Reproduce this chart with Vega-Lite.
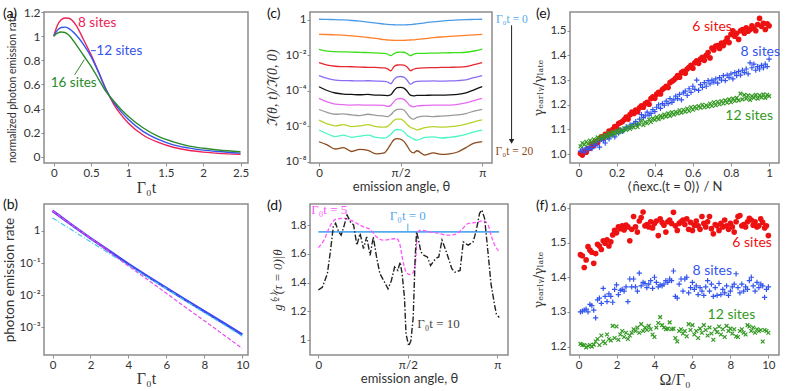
{
"$schema": "https://vega.github.io/schema/vega-lite/v6.json",
"background": "white",
"padding": {"left": 2, "top": 5, "right": 2, "bottom": 0},
"config": {
 "font": "Lato",
 "view": {"stroke": "#8c8c8c", "strokeWidth": 1.5},
 "axis": {"domain": false, "grid": false, "tickCount": 30, "tickColor": "#8c8c8c", "tickSize": 3, "labelPadding": 1, "labelFont": "Lato", "labelFontSize": 11.5, "labelColor": "#333", "labelOverlap": false, "titleFont": "Lato", "titleFontWeight": "normal", "titleFontSize": 13, "titleColor": "#333"},
 "title": {"font": "Lato", "fontSize": 14, "fontWeight": "normal", "anchor": "start", "frame": "group", "color": "#111"}
},
"datasets": {
 "a": [
  {"t":0,"r":1,"b":1,"g":1},{"t":0.05,"r":1.09,"b":1.05,"g":1.025},{"t":0.1,"r":1.135,"b":1.072,"g":1.035},{"t":0.15,"r":1.15,"b":1.075,"g":1.03},{"t":0.2,"r":1.148,"b":1.065,"g":1.01},{"t":0.3,"r":1.09,"b":1.01,"g":0.93},{"t":0.4,"r":0.97,"b":0.93,"g":0.84},{"t":0.5,"r":0.845,"b":0.83,"g":0.75},{"t":0.6,"r":0.705,"b":0.7,"g":0.645},{"t":0.7,"r":0.56,"b":0.555,"g":0.54},{"t":0.8,"r":0.44,"b":0.455,"g":0.465},{"t":0.9,"r":0.35,"b":0.375,"g":0.395},{"t":1.0,"r":0.28,"b":0.31,"g":0.335},{"t":1.2,"r":0.18,"b":0.21,"g":0.24},{"t":1.4,"r":0.12,"b":0.145,"g":0.17},{"t":1.6,"r":0.08,"b":0.1,"g":0.125},{"t":1.8,"r":0.055,"b":0.075,"g":0.092},{"t":2.0,"r":0.04,"b":0.057,"g":0.072},{"t":2.2,"r":0.03,"b":0.045,"g":0.058},{"t":2.5,"r":0.022,"b":0.032,"g":0.043}
 ],
 "b": [
  {"t":0,"s":4.17,"c":2.512,"m":4.17},{"t":1,"s":1.54,"c":1.072,"m":1.56},{"t":2,"s":0.589,"c":0.457,"m":0.589},{"t":3,"s":0.2344,"c":0.195,"m":0.2188},{"t":4,"s":0.0933,"c":0.0851,"m":0.0813},{"t":5,"s":0.0389,"c":0.0363,"m":0.0309},{"t":6,"s":0.0166,"c":0.01585,"m":0.01148},{"t":7,"s":0.00724,"c":0.00676,"m":0.00427},{"t":8,"s":0.00316,"c":0.00288,"m":0.00162},{"t":9,"s":0.00138,"c":0.00126,"m":0.000603},{"t":10,"s":0.000603,"c":0.000537,"m":0.000224}
 ],
 "c": [
  {"u":0,"c1":0.04,"c2":-0.81,"c3":-1.66,"c4":-2.41,"c5":-3.14,"c6":-3.77,"c7":-4.42,"c8":-5.05,"c9":-5.65,"c10":-6.21,"c11":-6.87},
  {"u":0.05,"c1":0.03,"c2":-0.82,"c3":-1.76,"c4":-2.55,"c5":-3.3,"c6":-3.98,"c7":-4.62,"c8":-5.22,"c9":-5.86,"c10":-6.42,"c11":-7.05},
  {"u":0.1,"c1":0.02,"c2":-0.84,"c3":-1.79,"c4":-2.61,"c5":-3.39,"c6":-4.12,"c7":-4.75,"c8":-5.32,"c9":-5.98,"c10":-6.58,"c11":-7.28},
  {"u":0.15,"c1":0.0,"c2":-0.86,"c3":-1.8,"c4":-2.63,"c5":-3.42,"c6":-4.18,"c7":-4.78,"c8":-5.3,"c9":-5.9,"c10":-6.5,"c11":-7.2},
  {"u":0.2,"c1":-0.03,"c2":-0.9,"c3":-1.81,"c4":-2.64,"c5":-3.43,"c6":-4.2,"c7":-4.8,"c8":-5.36,"c9":-6.02,"c10":-6.62,"c11":-7.42},
  {"u":0.25,"c1":-0.07,"c2":-0.94,"c3":-1.83,"c4":-2.66,"c5":-3.44,"c6":-4.22,"c7":-4.79,"c8":-5.4,"c9":-5.98,"c10":-6.55,"c11":-7.3},
  {"u":0.3,"c1":-0.12,"c2":-0.99,"c3":-1.84,"c4":-2.67,"c5":-3.43,"c6":-4.2,"c7":-4.81,"c8":-5.32,"c9":-5.9,"c10":-6.5,"c11":-7.36},
  {"u":0.35,"c1":-0.18,"c2":-1.04,"c3":-1.86,"c4":-2.68,"c5":-3.45,"c6":-4.24,"c7":-4.8,"c8":-5.38,"c9":-6.02,"c10":-6.62,"c11":-7.55},
  {"u":0.4,"c1":-0.23,"c2":-1.11,"c3":-1.88,"c4":-2.7,"c5":-3.46,"c6":-4.25,"c7":-4.82,"c8":-5.42,"c9":-6.05,"c10":-6.66,"c11":-7.5},
  {"u":0.42,"c1":-0.25,"c2":-1.13,"c3":-1.92,"c4":-2.76,"c5":-3.5,"c6":-4.27,"c7":-4.88,"c8":-5.45,"c9":-6.0,"c10":-6.6,"c11":-7.3},
  {"u":0.44,"c1":-0.26,"c2":-1.14,"c3":-2.01,"c4":-2.87,"c5":-3.6,"c6":-4.22,"c7":-4.82,"c8":-5.35,"c9":-5.85,"c10":-6.45,"c11":-7.0},
  {"u":0.46,"c1":-0.27,"c2":-1.15,"c3":-1.9,"c4":-2.62,"c5":-3.35,"c6":-3.98,"c7":-4.6,"c8":-5.15,"c9":-5.66,"c10":-6.25,"c11":-6.75},
  {"u":0.48,"c1":-0.28,"c2":-1.15,"c3":-1.82,"c4":-2.54,"c5":-3.21,"c6":-3.82,"c7":-4.45,"c8":-5.04,"c9":-5.59,"c10":-6.18,"c11":-6.69},
  {"u":0.5,"c1":-0.28,"c2":-1.15,"c3":-1.81,"c4":-2.53,"c5":-3.19,"c6":-3.8,"c7":-4.43,"c8":-5.03,"c9":-5.6,"c10":-6.2,"c11":-6.72},
  {"u":0.52,"c1":-0.28,"c2":-1.15,"c3":-1.82,"c4":-2.55,"c5":-3.22,"c6":-3.84,"c7":-4.48,"c8":-5.08,"c9":-5.7,"c10":-6.3,"c11":-6.85},
  {"u":0.54,"c1":-0.27,"c2":-1.14,"c3":-1.9,"c4":-2.65,"c5":-3.4,"c6":-4.02,"c7":-4.65,"c8":-5.3,"c9":-5.9,"c10":-6.5,"c11":-7.1},
  {"u":0.56,"c1":-0.26,"c2":-1.13,"c3":-2.01,"c4":-2.86,"c5":-3.62,"c6":-4.24,"c7":-4.85,"c8":-5.52,"c9":-6.05,"c10":-6.62,"c11":-7.4},
  {"u":0.58,"c1":-0.24,"c2":-1.12,"c3":-1.93,"c4":-2.78,"c5":-3.52,"c6":-4.28,"c7":-4.9,"c8":-5.6,"c9":-6.12,"c10":-6.72,"c11":-7.5},
  {"u":0.6,"c1":-0.22,"c2":-1.1,"c3":-1.89,"c4":-2.73,"c5":-3.46,"c6":-4.26,"c7":-4.85,"c8":-5.5,"c9":-6.2,"c10":-6.78,"c11":-7.38},
  {"u":0.65,"c1":-0.16,"c2":-1.05,"c3":-1.88,"c4":-2.7,"c5":-3.45,"c6":-4.25,"c7":-4.82,"c8":-5.42,"c9":-6.08,"c10":-6.62,"c11":-7.62},
  {"u":0.7,"c1":-0.11,"c2":-1.0,"c3":-1.87,"c4":-2.69,"c5":-3.44,"c6":-4.24,"c7":-4.8,"c8":-5.45,"c9":-6.02,"c10":-6.6,"c11":-7.5},
  {"u":0.75,"c1":-0.06,"c2":-0.96,"c3":-1.86,"c4":-2.68,"c5":-3.45,"c6":-4.24,"c7":-4.81,"c8":-5.42,"c9":-6.05,"c10":-6.66,"c11":-7.58},
  {"u":0.8,"c1":-0.02,"c2":-0.93,"c3":-1.85,"c4":-2.67,"c5":-3.44,"c6":-4.23,"c7":-4.8,"c8":-5.4,"c9":-6.02,"c10":-6.62,"c11":-7.55},
  {"u":0.85,"c1":0.0,"c2":-0.9,"c3":-1.84,"c4":-2.66,"c5":-3.42,"c6":-4.2,"c7":-4.76,"c8":-5.36,"c9":-5.97,"c10":-6.56,"c11":-7.45},
  {"u":0.9,"c1":0.02,"c2":-0.87,"c3":-1.82,"c4":-2.63,"c5":-3.38,"c6":-4.12,"c7":-4.68,"c8":-5.28,"c9":-5.88,"c10":-6.45,"c11":-7.2},
  {"u":0.95,"c1":0.03,"c2":-0.84,"c3":-1.75,"c4":-2.52,"c5":-3.25,"c6":-3.94,"c7":-4.55,"c8":-5.14,"c9":-5.75,"c10":-6.32,"c11":-6.95},
  {"u":1,"c1":0.04,"c2":-0.81,"c3":-1.64,"c4":-2.4,"c5":-3.13,"c6":-3.76,"c7":-4.42,"c8":-5.04,"c9":-5.64,"c10":-6.21,"c11":-6.86}
 ],
 "dm": [
  {"u":0,"g":1.643},{"u":0.031,"g":1.695},{"u":0.068,"g":1.8},{"u":0.096,"g":1.84},{"u":0.142,"g":1.847},{"u":0.179,"g":1.835},{"u":0.215,"g":1.812},{"u":0.252,"g":1.788},{"u":0.289,"g":1.77},{"u":0.325,"g":1.718},{"u":0.362,"g":1.695},{"u":0.399,"g":1.7},{"u":0.436,"g":1.707},{"u":0.454,"g":1.672},{"u":0.472,"g":1.554},{"u":0.491,"g":1.472},{"u":0.509,"g":1.456},{"u":0.527,"g":1.465},{"u":0.542,"g":1.531},{"u":0.555,"g":1.753},{"u":0.573,"g":1.765},{"u":0.619,"g":1.753},{"u":0.674,"g":1.742},{"u":0.72,"g":1.73},{"u":0.766,"g":1.735},{"u":0.802,"g":1.77},{"u":0.839,"g":1.812},{"u":0.885,"g":1.819},{"u":0.922,"g":1.83},{"u":0.949,"g":1.8},{"u":0.968,"g":1.718},{"u":0.986,"g":1.66},{"u":1.013,"g":1.613}
 ],
 "dk": [
  {"u":0,"g":1.349},{"u":0.022,"g":1.367},{"u":0.05,"g":1.461},{"u":0.068,"g":1.625},{"u":0.083,"g":1.788},{"u":0.096,"g":1.812},{"u":0.114,"g":1.753},{"u":0.127,"g":1.73},{"u":0.142,"g":1.788},{"u":0.16,"g":1.87},{"u":0.179,"g":1.823},{"u":0.197,"g":1.8},{"u":0.215,"g":1.66},{"u":0.233,"g":1.742},{"u":0.252,"g":1.636},{"u":0.27,"g":1.718},{"u":0.289,"g":1.589},{"u":0.307,"g":1.718},{"u":0.325,"g":1.578},{"u":0.344,"g":1.461},{"u":0.37,"g":1.402},{"u":0.389,"g":1.356},{"u":0.408,"g":1.414},{"u":0.426,"g":1.508},{"u":0.444,"g":1.484},{"u":0.457,"g":1.542},{"u":0.468,"g":1.461},{"u":0.481,"g":1.297},{"u":0.49,"g":1.04},{"u":0.505,"g":0.958},{"u":0.517,"g":0.993},{"u":0.53,"g":1.156},{"u":0.541,"g":1.578},{"u":0.549,"g":1.753},{"u":0.56,"g":1.695},{"u":0.573,"g":1.613},{"u":0.591,"g":1.589},{"u":0.609,"g":1.578},{"u":0.627,"g":1.519},{"u":0.655,"g":1.566},{"u":0.673,"g":1.578},{"u":0.691,"g":1.695},{"u":0.709,"g":1.636},{"u":0.728,"g":1.566},{"u":0.746,"g":1.496},{"u":0.764,"g":1.472},{"u":0.792,"g":1.484},{"u":0.81,"g":1.683},{"u":0.837,"g":1.66},{"u":0.865,"g":1.683},{"u":0.883,"g":1.765},{"u":0.901,"g":1.882},{"u":0.914,"g":1.905},{"u":0.929,"g":1.847},{"u":0.947,"g":1.625},{"u":0.965,"g":1.391},{"u":0.984,"g":1.251},{"u":0.995,"g":1.18},{"u":1.011,"g":1.156}
 ],
 "e6": [
  {"x":0.01,"y":1.003},{"x":0.02,"y":0.996},{"x":0.03,"y":1.012},{"x":0.04,"y":1.008},{"x":0.05,"y":1.022},{"x":0.06,"y":1.024},{"x":0.07,"y":1.04},{"x":0.08,"y":1.036},{"x":0.09,"y":1.05},{"x":0.1,"y":1.047},
  {"x":0.11,"y":1.062},{"x":0.12,"y":1.07},{"x":0.13,"y":1.066},{"x":0.14,"y":1.08},{"x":0.15,"y":1.078},{"x":0.16,"y":1.093},{"x":0.17,"y":1.088},{"x":0.18,"y":1.1},{"x":0.19,"y":1.112},{"x":0.2,"y":1.106},
  {"x":0.21,"y":1.124},{"x":0.22,"y":1.128},{"x":0.23,"y":1.132},{"x":0.24,"y":1.14},{"x":0.25,"y":1.15},{"x":0.26,"y":1.142},{"x":0.27,"y":1.16},{"x":0.28,"y":1.17},{"x":0.29,"y":1.165},{"x":0.3,"y":1.178},
  {"x":0.31,"y":1.172},{"x":0.32,"y":1.188},{"x":0.33,"y":1.196},{"x":0.34,"y":1.19},{"x":0.35,"y":1.205},{"x":0.36,"y":1.21},{"x":0.37,"y":1.202},{"x":0.38,"y":1.225},{"x":0.39,"y":1.232},{"x":0.4,"y":1.226},
  {"x":0.41,"y":1.243},{"x":0.42,"y":1.25},{"x":0.43,"y":1.244},{"x":0.44,"y":1.262},{"x":0.45,"y":1.268},{"x":0.46,"y":1.275},{"x":0.47,"y":1.27},{"x":0.48,"y":1.29},{"x":0.49,"y":1.295},{"x":0.5,"y":1.3},
  {"x":0.51,"y":1.308},{"x":0.52,"y":1.318},{"x":0.53,"y":1.312},{"x":0.54,"y":1.33},{"x":0.55,"y":1.336},{"x":0.56,"y":1.328},{"x":0.57,"y":1.345},{"x":0.58,"y":1.352},{"x":0.59,"y":1.36},{"x":0.6,"y":1.348},
  {"x":0.61,"y":1.37},{"x":0.62,"y":1.378},{"x":0.63,"y":1.368},{"x":0.64,"y":1.385},{"x":0.65,"y":1.392},{"x":0.66,"y":1.38},{"x":0.67,"y":1.4},{"x":0.68,"y":1.412},{"x":0.69,"y":1.39},{"x":0.7,"y":1.43},
  {"x":0.71,"y":1.422},{"x":0.72,"y":1.438},{"x":0.73,"y":1.44},{"x":0.74,"y":1.428},{"x":0.75,"y":1.45},{"x":0.76,"y":1.44},{"x":0.77,"y":1.455},{"x":0.78,"y":1.47},{"x":0.79,"y":1.452},{"x":0.8,"y":1.485},
  {"x":0.81,"y":1.5},{"x":0.82,"y":1.478},{"x":0.83,"y":1.49},{"x":0.84,"y":1.465},{"x":0.85,"y":1.5},{"x":0.86,"y":1.505},{"x":0.87,"y":1.49},{"x":0.88,"y":1.512},{"x":0.89,"y":1.498},{"x":0.9,"y":1.505},
  {"x":0.91,"y":1.52},{"x":0.92,"y":1.51},{"x":0.93,"y":1.5},{"x":0.94,"y":1.525},{"x":0.95,"y":1.55},{"x":0.96,"y":1.518},{"x":0.97,"y":1.53},{"x":0.98,"y":1.505},{"x":0.99,"y":1.528},{"x":1.0,"y":1.52}
 ],
 "e8": [
  {"x":0.01,"y":1.012},{"x":0.02,"y":1.02},{"x":0.03,"y":1.008},{"x":0.04,"y":1.025},{"x":0.05,"y":1.018},{"x":0.06,"y":1.03},{"x":0.07,"y":1.022},{"x":0.08,"y":1.04},{"x":0.09,"y":1.035},{"x":0.1,"y":1.05},
  {"x":0.11,"y":1.028},{"x":0.12,"y":1.06},{"x":0.13,"y":1.055},{"x":0.14,"y":1.045},{"x":0.15,"y":1.068},{"x":0.16,"y":1.062},{"x":0.17,"y":1.075},{"x":0.18,"y":1.08},{"x":0.19,"y":1.07},{"x":0.2,"y":1.09},
  {"x":0.21,"y":1.085},{"x":0.22,"y":1.098},{"x":0.23,"y":1.092},{"x":0.24,"y":1.1},{"x":0.25,"y":1.11},{"x":0.26,"y":1.105},{"x":0.27,"y":1.118},{"x":0.28,"y":1.112},{"x":0.29,"y":1.125},{"x":0.3,"y":1.132},
  {"x":0.31,"y":1.12},{"x":0.32,"y":1.142},{"x":0.33,"y":1.16},{"x":0.34,"y":1.148},{"x":0.35,"y":1.155},{"x":0.36,"y":1.17},{"x":0.37,"y":1.158},{"x":0.38,"y":1.165},{"x":0.39,"y":1.18},{"x":0.4,"y":1.172},
  {"x":0.41,"y":1.19},{"x":0.42,"y":1.2},{"x":0.43,"y":1.185},{"x":0.44,"y":1.205},{"x":0.45,"y":1.198},{"x":0.46,"y":1.215},{"x":0.47,"y":1.205},{"x":0.48,"y":1.225},{"x":0.49,"y":1.21},{"x":0.5,"y":1.22},
  {"x":0.51,"y":1.235},{"x":0.52,"y":1.225},{"x":0.53,"y":1.242},{"x":0.54,"y":1.22},{"x":0.55,"y":1.248},{"x":0.56,"y":1.255},{"x":0.57,"y":1.238},{"x":0.58,"y":1.265},{"x":0.59,"y":1.25},{"x":0.6,"y":1.275},
  {"x":0.61,"y":1.262},{"x":0.62,"y":1.3},{"x":0.63,"y":1.258},{"x":0.64,"y":1.282},{"x":0.65,"y":1.27},{"x":0.66,"y":1.29},{"x":0.67,"y":1.275},{"x":0.68,"y":1.298},{"x":0.69,"y":1.285},{"x":0.7,"y":1.3},
  {"x":0.71,"y":1.292},{"x":0.72,"y":1.305},{"x":0.73,"y":1.288},{"x":0.74,"y":1.31},{"x":0.75,"y":1.3},{"x":0.76,"y":1.318},{"x":0.77,"y":1.298},{"x":0.78,"y":1.32},{"x":0.79,"y":1.31},{"x":0.8,"y":1.325},
  {"x":0.81,"y":1.305},{"x":0.82,"y":1.33},{"x":0.83,"y":1.318},{"x":0.84,"y":1.335},{"x":0.85,"y":1.32},{"x":0.86,"y":1.34},{"x":0.87,"y":1.33},{"x":0.88,"y":1.345},{"x":0.89,"y":1.325},{"x":0.9,"y":1.37},
  {"x":0.91,"y":1.35},{"x":0.92,"y":1.365},{"x":0.93,"y":1.34},{"x":0.94,"y":1.355},{"x":0.95,"y":1.345},{"x":0.96,"y":1.36},{"x":0.97,"y":1.35},{"x":0.98,"y":1.365},{"x":0.99,"y":1.355},{"x":1.0,"y":1.385}
 ],
 "e12": [
  {"x":0.01,"y":1.032},{"x":0.02,"y":1.045},{"x":0.03,"y":1.038},{"x":0.04,"y":1.05},{"x":0.05,"y":1.042},{"x":0.06,"y":1.055},{"x":0.07,"y":1.048},{"x":0.08,"y":1.06},{"x":0.09,"y":1.052},{"x":0.1,"y":1.068},
  {"x":0.11,"y":1.06},{"x":0.12,"y":1.072},{"x":0.13,"y":1.065},{"x":0.14,"y":1.078},{"x":0.15,"y":1.07},{"x":0.16,"y":1.085},{"x":0.17,"y":1.076},{"x":0.18,"y":1.09},{"x":0.19,"y":1.082},{"x":0.2,"y":1.095},
  {"x":0.21,"y":1.088},{"x":0.22,"y":1.1},{"x":0.23,"y":1.092},{"x":0.24,"y":1.105},{"x":0.25,"y":1.098},{"x":0.26,"y":1.11},{"x":0.27,"y":1.102},{"x":0.28,"y":1.115},{"x":0.29,"y":1.108},{"x":0.3,"y":1.118},
  {"x":0.31,"y":1.11},{"x":0.32,"y":1.122},{"x":0.33,"y":1.135},{"x":0.34,"y":1.118},{"x":0.35,"y":1.13},{"x":0.36,"y":1.125},{"x":0.37,"y":1.14},{"x":0.38,"y":1.13},{"x":0.39,"y":1.145},{"x":0.4,"y":1.138},
  {"x":0.41,"y":1.15},{"x":0.42,"y":1.142},{"x":0.43,"y":1.155},{"x":0.44,"y":1.148},{"x":0.45,"y":1.16},{"x":0.46,"y":1.152},{"x":0.47,"y":1.165},{"x":0.48,"y":1.155},{"x":0.49,"y":1.17},{"x":0.5,"y":1.16},
  {"x":0.51,"y":1.172},{"x":0.52,"y":1.165},{"x":0.53,"y":1.178},{"x":0.54,"y":1.168},{"x":0.55,"y":1.18},{"x":0.56,"y":1.172},{"x":0.57,"y":1.185},{"x":0.58,"y":1.175},{"x":0.59,"y":1.19},{"x":0.6,"y":1.18},
  {"x":0.61,"y":1.192},{"x":0.62,"y":1.185},{"x":0.63,"y":1.195},{"x":0.64,"y":1.188},{"x":0.65,"y":1.2},{"x":0.66,"y":1.19},{"x":0.67,"y":1.198},{"x":0.68,"y":1.192},{"x":0.69,"y":1.205},{"x":0.7,"y":1.195},
  {"x":0.71,"y":1.21},{"x":0.72,"y":1.198},{"x":0.73,"y":1.212},{"x":0.74,"y":1.202},{"x":0.75,"y":1.215},{"x":0.76,"y":1.205},{"x":0.77,"y":1.218},{"x":0.78,"y":1.208},{"x":0.79,"y":1.222},{"x":0.8,"y":1.21},
  {"x":0.81,"y":1.225},{"x":0.82,"y":1.215},{"x":0.83,"y":1.228},{"x":0.84,"y":1.218},{"x":0.85,"y":1.245},{"x":0.86,"y":1.222},{"x":0.87,"y":1.24},{"x":0.88,"y":1.225},{"x":0.89,"y":1.238},{"x":0.9,"y":1.22},
  {"x":0.91,"y":1.235},{"x":0.92,"y":1.228},{"x":0.93,"y":1.24},{"x":0.94,"y":1.225},{"x":0.95,"y":1.238},{"x":0.96,"y":1.23},{"x":0.97,"y":1.242},{"x":0.98,"y":1.228},{"x":0.99,"y":1.24},{"x":1.0,"y":1.235}
 ],
 "f6": [
  {"x":0.1,"y":1.465},{"x":0.2,"y":1.462},{"x":0.3,"y":1.428},{"x":0.4,"y":1.45},{"x":0.5,"y":1.488},{"x":0.6,"y":1.478},{"x":0.7,"y":1.472},{"x":0.8,"y":1.44},{"x":0.9,"y":1.468},{"x":1.0,"y":1.495},
  {"x":1.1,"y":1.49},{"x":1.2,"y":1.48},{"x":1.3,"y":1.505},{"x":1.4,"y":1.498},{"x":1.5,"y":1.508},{"x":1.6,"y":1.49},{"x":1.7,"y":1.502},{"x":1.8,"y":1.522},{"x":1.9,"y":1.535},{"x":2.0,"y":1.528},
  {"x":2.1,"y":1.545},{"x":2.2,"y":1.54},{"x":2.3,"y":1.548},{"x":2.4,"y":1.536},{"x":2.5,"y":1.55},{"x":2.6,"y":1.545},{"x":2.7,"y":1.505},{"x":2.8,"y":1.538},{"x":2.9,"y":1.575},{"x":3.0,"y":1.545},
  {"x":3.1,"y":1.53},{"x":3.2,"y":1.562},{"x":3.3,"y":1.572},{"x":3.4,"y":1.588},{"x":3.5,"y":1.548},{"x":3.6,"y":1.552},{"x":3.7,"y":1.545},{"x":3.8,"y":1.56},{"x":3.9,"y":1.542},{"x":4.0,"y":1.555},
  {"x":4.1,"y":1.562},{"x":4.2,"y":1.52},{"x":4.3,"y":1.568},{"x":4.4,"y":1.558},{"x":4.5,"y":1.55},{"x":4.6,"y":1.53},{"x":4.7,"y":1.56},{"x":4.8,"y":1.565},{"x":4.9,"y":1.555},{"x":5.0,"y":1.587},
  {"x":5.1,"y":1.548},{"x":5.2,"y":1.535},{"x":5.3,"y":1.555},{"x":5.4,"y":1.56},{"x":5.5,"y":1.565},{"x":5.6,"y":1.552},{"x":5.7,"y":1.568},{"x":5.8,"y":1.538},{"x":5.9,"y":1.558},{"x":6.0,"y":1.535},
  {"x":6.1,"y":1.55},{"x":6.2,"y":1.562},{"x":6.3,"y":1.548},{"x":6.4,"y":1.538},{"x":6.5,"y":1.575},{"x":6.6,"y":1.555},{"x":6.7,"y":1.545},{"x":6.8,"y":1.56},{"x":6.9,"y":1.575},{"x":7.0,"y":1.54},
  {"x":7.1,"y":1.525},{"x":7.2,"y":1.552},{"x":7.3,"y":1.548},{"x":7.4,"y":1.535},{"x":7.5,"y":1.555},{"x":7.6,"y":1.545},{"x":7.7,"y":1.565},{"x":7.8,"y":1.548},{"x":7.9,"y":1.538},{"x":8.0,"y":1.555},
  {"x":8.1,"y":1.545},{"x":8.2,"y":1.53},{"x":8.3,"y":1.56},{"x":8.4,"y":1.575},{"x":8.5,"y":1.578},{"x":8.6,"y":1.548},{"x":8.7,"y":1.552},{"x":8.8,"y":1.545},{"x":8.9,"y":1.56},{"x":9.0,"y":1.57},
  {"x":9.1,"y":1.565},{"x":9.2,"y":1.55},{"x":9.3,"y":1.56},{"x":9.4,"y":1.545},{"x":9.5,"y":1.548},{"x":9.6,"y":1.568},{"x":9.7,"y":1.558},{"x":9.8,"y":1.542},{"x":9.9,"y":1.548},{"x":10.0,"y":1.52}
 ],
 "f8": [
  {"x":0.1,"y":1.3},{"x":0.2,"y":1.302},{"x":0.3,"y":1.305},{"x":0.4,"y":1.308},{"x":0.5,"y":1.3},{"x":0.6,"y":1.322},{"x":0.7,"y":1.318},{"x":0.8,"y":1.305},{"x":0.9,"y":1.283},{"x":1.0,"y":1.335},
  {"x":1.1,"y":1.34},{"x":1.2,"y":1.325},{"x":1.3,"y":1.368},{"x":1.4,"y":1.345},{"x":1.5,"y":1.33},{"x":1.6,"y":1.352},{"x":1.7,"y":1.345},{"x":1.8,"y":1.328},{"x":1.9,"y":1.365},{"x":2.0,"y":1.378},
  {"x":2.1,"y":1.35},{"x":2.2,"y":1.362},{"x":2.3,"y":1.365},{"x":2.4,"y":1.36},{"x":2.5,"y":1.372},{"x":2.6,"y":1.33},{"x":2.7,"y":1.395},{"x":2.8,"y":1.372},{"x":2.9,"y":1.395},{"x":3.0,"y":1.372},
  {"x":3.1,"y":1.36},{"x":3.2,"y":1.412},{"x":3.3,"y":1.375},{"x":3.4,"y":1.385},{"x":3.5,"y":1.382},{"x":3.6,"y":1.37},{"x":3.7,"y":1.38},{"x":3.8,"y":1.39},{"x":3.9,"y":1.368},{"x":4.0,"y":1.4},
  {"x":4.1,"y":1.385},{"x":4.2,"y":1.372},{"x":4.3,"y":1.378},{"x":4.4,"y":1.375},{"x":4.5,"y":1.38},{"x":4.6,"y":1.39},{"x":4.7,"y":1.385},{"x":4.8,"y":1.395},{"x":4.9,"y":1.39},{"x":5.0,"y":1.418},
  {"x":5.1,"y":1.345},{"x":5.2,"y":1.34},{"x":5.3,"y":1.38},{"x":5.4,"y":1.395},{"x":5.5,"y":1.36},{"x":5.6,"y":1.395},{"x":5.7,"y":1.4},{"x":5.8,"y":1.355},{"x":5.9,"y":1.37},{"x":6.0,"y":1.385},
  {"x":6.1,"y":1.365},{"x":6.2,"y":1.375},{"x":6.3,"y":1.35},{"x":6.4,"y":1.37},{"x":6.5,"y":1.36},{"x":6.6,"y":1.348},{"x":6.7,"y":1.372},{"x":6.8,"y":1.39},{"x":6.9,"y":1.36},{"x":7.0,"y":1.38},
  {"x":7.1,"y":1.345},{"x":7.2,"y":1.37},{"x":7.3,"y":1.348},{"x":7.4,"y":1.382},{"x":7.5,"y":1.35},{"x":7.6,"y":1.365},{"x":7.7,"y":1.355},{"x":7.8,"y":1.375},{"x":7.9,"y":1.348},{"x":8.0,"y":1.36},
  {"x":8.1,"y":1.372},{"x":8.2,"y":1.38},{"x":8.3,"y":1.41},{"x":8.4,"y":1.37},{"x":8.5,"y":1.355},{"x":8.6,"y":1.38},{"x":8.7,"y":1.36},{"x":8.8,"y":1.372},{"x":8.9,"y":1.365},{"x":9.0,"y":1.39},
  {"x":9.1,"y":1.4},{"x":9.2,"y":1.375},{"x":9.3,"y":1.36},{"x":9.4,"y":1.385},{"x":9.5,"y":1.37},{"x":9.6,"y":1.38},{"x":9.7,"y":1.375},{"x":9.8,"y":1.342},{"x":9.9,"y":1.365},{"x":10.0,"y":1.372}
 ],
 "f12": [
  {"x":0.1,"y":1.208},{"x":0.2,"y":1.205},{"x":0.3,"y":1.205},{"x":0.4,"y":1.198},{"x":0.5,"y":1.202},{"x":0.6,"y":1.205},{"x":0.7,"y":1.2},{"x":0.8,"y":1.206},{"x":0.9,"y":1.215},{"x":1.0,"y":1.222},
  {"x":1.1,"y":1.205},{"x":1.2,"y":1.232},{"x":1.3,"y":1.215},{"x":1.4,"y":1.21},{"x":1.5,"y":1.235},{"x":1.6,"y":1.222},{"x":1.7,"y":1.218},{"x":1.8,"y":1.26},{"x":1.9,"y":1.225},{"x":2.0,"y":1.258},
  {"x":2.1,"y":1.22},{"x":2.2,"y":1.235},{"x":2.3,"y":1.245},{"x":2.4,"y":1.228},{"x":2.5,"y":1.24},{"x":2.6,"y":1.222},{"x":2.7,"y":1.232},{"x":2.8,"y":1.24},{"x":2.9,"y":1.25},{"x":3.0,"y":1.245},
  {"x":3.1,"y":1.255},{"x":3.2,"y":1.24},{"x":3.3,"y":1.265},{"x":3.4,"y":1.245},{"x":3.5,"y":1.255},{"x":3.6,"y":1.248},{"x":3.7,"y":1.26},{"x":3.8,"y":1.25},{"x":3.9,"y":1.235},{"x":4.0,"y":1.228},
  {"x":4.1,"y":1.255},{"x":4.2,"y":1.268},{"x":4.3,"y":1.285},{"x":4.4,"y":1.262},{"x":4.5,"y":1.255},{"x":4.6,"y":1.25},{"x":4.7,"y":1.252},{"x":4.8,"y":1.27},{"x":4.9,"y":1.25},{"x":5.0,"y":1.252},
  {"x":5.1,"y":1.225},{"x":5.2,"y":1.215},{"x":5.3,"y":1.245},{"x":5.4,"y":1.25},{"x":5.5,"y":1.238},{"x":5.6,"y":1.245},{"x":5.7,"y":1.23},{"x":5.8,"y":1.265},{"x":5.9,"y":1.248},{"x":6.0,"y":1.262},
  {"x":6.1,"y":1.235},{"x":6.2,"y":1.245},{"x":6.3,"y":1.225},{"x":6.4,"y":1.252},{"x":6.5,"y":1.24},{"x":6.6,"y":1.262},{"x":6.7,"y":1.248},{"x":6.8,"y":1.232},{"x":6.9,"y":1.255},{"x":7.0,"y":1.238},
  {"x":7.1,"y":1.22},{"x":7.2,"y":1.25},{"x":7.3,"y":1.242},{"x":7.4,"y":1.258},{"x":7.5,"y":1.235},{"x":7.6,"y":1.25},{"x":7.7,"y":1.228},{"x":7.8,"y":1.26},{"x":7.9,"y":1.245},{"x":8.0,"y":1.252},
  {"x":8.1,"y":1.238},{"x":8.2,"y":1.25},{"x":8.3,"y":1.23},{"x":8.4,"y":1.228},{"x":8.5,"y":1.245},{"x":8.6,"y":1.25},{"x":8.7,"y":1.24},{"x":8.8,"y":1.235},{"x":8.9,"y":1.262},{"x":9.0,"y":1.258},
  {"x":9.1,"y":1.245},{"x":9.2,"y":1.255},{"x":9.3,"y":1.24},{"x":9.4,"y":1.25},{"x":9.5,"y":1.245},{"x":9.6,"y":1.248},{"x":9.7,"y":1.215},{"x":9.8,"y":1.248},{"x":9.9,"y":1.245},{"x":10.0,"y":1.24}
 ]
},
"columns": 3,
"align": "each",
"bounds": "flush",
"spacing": {"row": 41, "column": 62},
"resolve": {"scale": {"color": "independent"}},
"concat": [
 {
  "width": 204, "height": 151,
  "title": {"text": "(a)", "dx": -41, "offset": -15},
  "layer": [
   {"data": {"name": "a"}, "transform": [{"fold": ["r", "b", "g"], "as": ["s", "v"]}],
    "mark": {"type": "line", "strokeWidth": 1.4, "interpolate": "monotone"},
    "encoding": {
     "x": {"field": "t", "type": "quantitative", "scale": {"domain": [-0.13, 2.6], "nice": false, "zero": false}, "axis": {"values": [0, 0.5, 1, 1.5, 2, 2.5], "format": "~g", "title": "Γ₀t", "titleFont": "Liberation Serif", "titleFontSize": 16, "titlePadding": 1}},
     "y": {"field": "v", "type": "quantitative", "scale": {"domain": [-0.05, 1.2], "nice": false, "zero": false}, "axis": {"values": [0, 0.2, 0.4, 0.6, 0.8, 1, 1.2], "format": "~g", "labelFontSize": 12, "title": "normalized photon emission rate", "titleFontSize": 10.5, "titlePadding": 6}},
     "color": {"field": "s", "type": "nominal", "scale": {"domain": ["r", "b", "g"], "range": ["#ee2255", "#3355ee", "#2a8a2a"]}, "legend": null}
    }},
   {"data": {"values": [{"t": 0.5, "v": 0.88, "t2": 0.565, "v2": 0.88}]}, "mark": {"type": "rule", "color": "#3355ee", "strokeWidth": 1},
    "encoding": {"x": {"field": "t", "type": "quantitative"}, "x2": {"field": "t2"}, "y": {"field": "v", "type": "quantitative"}, "y2": {"field": "v2"}}},
   {"data": {"values": [{"t": 0.41, "v": 0.806, "t2": 0.28, "v2": 0.68}]}, "mark": {"type": "rule", "color": "#2a8a2a", "strokeWidth": 1},
    "encoding": {"x": {"field": "t", "type": "quantitative"}, "x2": {"field": "t2"}, "y": {"field": "v", "type": "quantitative"}, "y2": {"field": "v2"}}},
   {"data": {"values": [{"t": 0.326, "v": 1.11, "txt": "8 sites"}]}, "mark": {"type": "text", "align": "left", "baseline": "middle", "fontSize": 13.5, "color": "#ee2255"},
    "encoding": {"x": {"field": "t", "type": "quantitative"}, "y": {"field": "v", "type": "quantitative"}, "text": {"field": "txt"}}},
   {"data": {"values": [{"t": 0.57, "v": 0.88, "txt": "12 sites"}]}, "mark": {"type": "text", "align": "left", "baseline": "middle", "fontSize": 13.5, "color": "#3355ee"},
    "encoding": {"x": {"field": "t", "type": "quantitative"}, "y": {"field": "v", "type": "quantitative"}, "text": {"field": "txt"}}},
   {"data": {"values": [{"t": -0.04, "v": 0.61, "txt": "16 sites"}]}, "mark": {"type": "text", "align": "left", "baseline": "middle", "fontSize": 13.5, "color": "#2a8a2a"},
    "encoding": {"x": {"field": "t", "type": "quantitative"}, "y": {"field": "v", "type": "quantitative"}, "text": {"field": "txt"}}}
  ]
 },
 {
  "width": 182, "height": 151,
  "title": {"text": "(c)", "dx": -43, "offset": -9},
  "layer": [
   {"data": {"name": "c"}, "transform": [{"fold": ["c1", "c2", "c3", "c4", "c5", "c6", "c7", "c8", "c9", "c10", "c11"], "as": ["k", "w"]}],
    "mark": {"type": "line", "strokeWidth": 1.3, "interpolate": "monotone"},
    "encoding": {
     "x": {"field": "u", "type": "quantitative", "scale": {"domain": [-0.055, 1.06], "nice": false, "zero": false}, "axis": {"values": [0, 0.5, 1], "labelExpr": "datum.value == 0 ? '0' : datum.value == 0.5 ? 'π/2' : 'π'", "title": "emission angle, θ", "titlePadding": 2}},
     "y": {"field": "w", "type": "quantitative", "scale": {"domain": [-8.07, 0.45], "nice": false, "zero": false}, "axis": {"values": [0, -2, -4, -6, -8], "labelExpr": "datum.value == 0 ? '1' : datum.value == -2 ? '10⁻²' : datum.value == -4 ? '10⁻⁴' : datum.value == -6 ? '10⁻⁶' : '10⁻⁸'", "title": "ℑ(θ, t)/ℑ(0, 0)", "titleFont": "Liberation Serif", "titleFontStyle": "italic", "titleFontSize": 14, "titlePadding": 5}},
     "color": {"field": "k", "type": "nominal", "scale": {"domain": ["c1", "c2", "c3", "c4", "c5", "c6", "c7", "c8", "c9", "c10", "c11"], "range": ["#4c9be8", "#ff7f2a", "#3adf1a", "#e8262e", "#8a6cf5", "#111111", "#e46cf0", "#9a9a9a", "#b7d32a", "#4cf5c6", "#8b4a1c"]}, "legend": null}
    }},
   {"data": {"values": [{"u": 1.18, "w": -0.3, "u2": 1.18, "w2": -6.8}]}, "mark": {"type": "rule", "color": "#222", "strokeWidth": 1},
    "encoding": {"x": {"field": "u", "type": "quantitative"}, "x2": {"field": "u2"}, "y": {"field": "w", "type": "quantitative"}, "y2": {"field": "w2"}}},
   {"data": {"values": [{"u": 1.18, "w": -6.85}]}, "mark": {"type": "point", "shape": "triangle-down", "filled": true, "color": "#222", "size": 30, "opacity": 1},
    "encoding": {"x": {"field": "u", "type": "quantitative"}, "y": {"field": "w", "type": "quantitative"}}},
   {"data": {"values": [{"u": 1.084, "w": 0, "txt": "Γ₀t = 0"}]}, "mark": {"type": "text", "align": "left", "baseline": "middle", "font": "Liberation Serif", "fontSize": 11.5, "color": "#55aaee"},
    "encoding": {"x": {"field": "u", "type": "quantitative"}, "y": {"field": "w", "type": "quantitative"}, "text": {"field": "txt"}}},
   {"data": {"values": [{"u": 1.082, "w": -7.44, "txt": "Γ₀t = 20"}]}, "mark": {"type": "text", "align": "left", "baseline": "middle", "font": "Liberation Serif", "fontSize": 11.5, "color": "#8b4a1c"},
    "encoding": {"x": {"field": "u", "type": "quantitative"}, "y": {"field": "w", "type": "quantitative"}, "text": {"field": "txt"}}}
  ]
 },
 {
  "width": 209, "height": 151,
  "title": {"text": "(e)", "dx": -34, "offset": -9},
  "layer": [
   {"data": {"name": "e6"}, "mark": {"type": "point", "shape": "circle", "filled": true, "color": "#ee1111", "size": 32, "opacity": 1},
    "encoding": {
     "x": {"field": "x", "type": "quantitative", "scale": {"domain": [-0.045, 1.052], "nice": false, "zero": false}, "axis": {"values": [0, 0.2, 0.4, 0.6, 0.8, 1], "format": "~g", "title": "⟨n̂exc.(t = 0)⟩ / N", "titlePadding": 2}},
     "y": {"field": "y", "type": "quantitative", "scale": {"domain": [0.964, 1.576], "nice": false, "zero": false}, "axis": {"values": [1.0, 1.1, 1.2, 1.3, 1.4, 1.5], "format": ".1f", "title": "γₑₐᵣₗᵧ/γₗₐₜₑ", "titleFont": "DejaVu Serif", "titleFontSize": 12.5, "titlePadding": 4}}
    }},
   {"data": {"name": "e8"}, "mark": {"type": "point", "shape": "M-1,0L1,0M0,-1L0,1", "filled": false, "color": "#3355ee", "strokeWidth": 1.2, "size": 28, "opacity": 1},
    "encoding": {"x": {"field": "x", "type": "quantitative"}, "y": {"field": "y", "type": "quantitative"}}},
   {"data": {"name": "e12"}, "mark": {"type": "point", "shape": "M-1,-1L1,1M1,-1L-1,1", "filled": false, "color": "#339922", "strokeWidth": 1.2, "size": 14, "opacity": 1},
    "encoding": {"x": {"field": "x", "type": "quantitative"}, "y": {"field": "y", "type": "quantitative"}}},
   {"data": {"values": [{"x": 0.597, "y": 1.516, "txt": "6 sites"}]}, "mark": {"type": "text", "align": "left", "baseline": "middle", "fontSize": 14, "color": "#ee1111"},
    "encoding": {"x": {"field": "x", "type": "quantitative"}, "y": {"field": "y", "type": "quantitative"}, "text": {"field": "txt"}}},
   {"data": {"values": [{"x": 0.85, "y": 1.415, "txt": "8 sites"}]}, "mark": {"type": "text", "align": "left", "baseline": "middle", "fontSize": 14, "color": "#3355ee"},
    "encoding": {"x": {"field": "x", "type": "quantitative"}, "y": {"field": "y", "type": "quantitative"}, "text": {"field": "txt"}}},
   {"data": {"values": [{"x": 0.77, "y": 1.155, "txt": "12 sites"}]}, "mark": {"type": "text", "align": "left", "baseline": "middle", "fontSize": 14, "color": "#339922"},
    "encoding": {"x": {"field": "x", "type": "quantitative"}, "y": {"field": "y", "type": "quantitative"}, "text": {"field": "txt"}}}
  ]
 },
 {
  "width": 204, "height": 151,
  "title": {"text": "(b)", "dx": -41, "offset": -8},
  "layer": [
   {"data": {"name": "b"}, "mark": {"type": "line", "strokeWidth": 2.6, "color": "#3d47f0"},
    "encoding": {
     "x": {"field": "t", "type": "quantitative", "scale": {"domain": [-0.45, 10.3], "nice": false, "zero": false}, "axis": {"values": [0, 2, 4, 6, 8, 10], "format": "d", "title": "Γ₀t", "titleFont": "Liberation Serif", "titleFontSize": 16, "titlePadding": 0}},
     "y": {"field": "s", "type": "quantitative", "scale": {"type": "log", "domain": [0.00014, 6.8], "nice": false}, "axis": {"values": [1, 0.1, 0.01, 0.001], "labelExpr": "datum.value >= 1 ? '1' : datum.value > 0.05 ? '10⁻¹' : datum.value > 0.005 ? '10⁻²' : '10⁻³'", "title": "photon emission rate", "titleFontSize": 13.5, "titlePadding": 2}}
    }},
   {"data": {"name": "b"}, "transform": [{"filter": "datum.t <= 3"}], "mark": {"type": "line", "strokeWidth": 1.4, "color": "#9a3be8"},
    "encoding": {"x": {"field": "t", "type": "quantitative"}, "y": {"field": "s", "type": "quantitative"}}},
   {"data": {"name": "b"}, "mark": {"type": "line", "strokeWidth": 1.2, "color": "#45c8f0", "strokeDash": [5, 2, 1, 2]},
    "encoding": {"x": {"field": "t", "type": "quantitative"}, "y": {"field": "c", "type": "quantitative"}}},
   {"data": {"name": "b"}, "mark": {"type": "line", "strokeWidth": 1.2, "color": "#e04ef0", "strokeDash": [4, 2]},
    "encoding": {"x": {"field": "t", "type": "quantitative"}, "y": {"field": "m", "type": "quantitative"}}}
  ]
 },
 {
  "width": 198, "height": 151,
  "title": {"text": "(d)", "dx": -43, "offset": -9},
  "layer": [
   {"data": {"values": [{"u": 0, "g": 1.753}, {"u": 1.01, "g": 1.753}]}, "mark": {"type": "line", "strokeWidth": 1.6, "color": "#55aaee"},
    "encoding": {
     "x": {"field": "u", "type": "quantitative", "scale": {"domain": [-0.047, 1.06], "nice": false, "zero": false}, "axis": {"values": [0, 0.5, 1], "labelExpr": "datum.value == 0 ? '0' : datum.value == 0.5 ? 'π/2' : 'π'", "title": "emission angle, θ", "titlePadding": 2}},
     "y": {"field": "g", "type": "quantitative", "scale": {"domain": [0.895, 1.947], "nice": false, "zero": false}, "axis": {"values": [1, 1.2, 1.4, 1.6, 1.8], "format": "~g", "title": "g⁽²⁾(τ = 0)|θ", "titleFont": "Liberation Serif", "titleFontStyle": "italic", "titleFontSize": 13, "titlePadding": 5}}
    }},
   {"data": {"name": "dm"}, "mark": {"type": "line", "strokeWidth": 1.3, "color": "#ff55ff", "strokeDash": [4, 2], "interpolate": "monotone"},
    "encoding": {"x": {"field": "u", "type": "quantitative"}, "y": {"field": "g", "type": "quantitative"}}},
   {"data": {"name": "dk"}, "mark": {"type": "line", "strokeWidth": 1.4, "color": "#222222", "strokeDash": [6, 2, 1.5, 2]},
    "encoding": {"x": {"field": "u", "type": "quantitative"}, "y": {"field": "g", "type": "quantitative"}}},
   {"data": {"values": [{"u": 0.5, "g": 1.753, "u2": 0.5, "g2": 1.81}]}, "mark": {"type": "rule", "color": "#55aaee", "strokeWidth": 1},
    "encoding": {"x": {"field": "u", "type": "quantitative"}, "x2": {"field": "u2"}, "y": {"field": "g", "type": "quantitative"}, "y2": {"field": "g2"}}},
   {"data": {"values": [{"u": 0.5, "g": 1.865, "txt": "Γ₀t = 0"}]}, "mark": {"type": "text", "align": "center", "baseline": "middle", "font": "Liberation Serif", "fontSize": 13, "color": "#55aaee"},
    "encoding": {"x": {"field": "u", "type": "quantitative"}, "y": {"field": "g", "type": "quantitative"}, "text": {"field": "txt"}}},
   {"data": {"values": [{"u": -0.04, "g": 1.905, "txt": "Γ₀t = 5"}]}, "mark": {"type": "text", "align": "left", "baseline": "middle", "font": "Liberation Serif", "fontSize": 13, "color": "#ff55ff"},
    "encoding": {"x": {"field": "u", "type": "quantitative"}, "y": {"field": "g", "type": "quantitative"}, "text": {"field": "txt"}}},
   {"data": {"values": [{"u": 0.553, "g": 1.11, "txt": "Γ₀t = 10"}]}, "mark": {"type": "text", "align": "left", "baseline": "middle", "font": "Liberation Serif", "fontSize": 13, "color": "#444444"},
    "encoding": {"x": {"field": "u", "type": "quantitative"}, "y": {"field": "g", "type": "quantitative"}, "text": {"field": "txt"}}}
  ]
 },
 {
  "width": 209, "height": 151,
  "title": {"text": "(f)", "dx": -34, "offset": -11},
  "layer": [
   {"data": {"name": "f6"}, "mark": {"type": "point", "shape": "circle", "filled": true, "color": "#ee1111", "size": 32, "opacity": 1},
    "encoding": {
     "x": {"field": "x", "type": "quantitative", "scale": {"domain": [-0.45, 10.56], "nice": false, "zero": false}, "axis": {"values": [0, 2, 4, 6, 8, 10], "format": "d", "title": "Ω/Γ₀", "titleFont": "Liberation Serif", "titleFontSize": 16, "titlePadding": 1}},
     "y": {"field": "y", "type": "quantitative", "scale": {"domain": [1.176, 1.611], "nice": false, "zero": false}, "axis": {"values": [1.2, 1.3, 1.4, 1.5, 1.6], "format": ".1f", "title": "γₑₐᵣₗᵧ/γₗₐₜₑ", "titleFont": "DejaVu Serif", "titleFontSize": 12.5, "titlePadding": 4}}
    }},
   {"data": {"name": "f8"}, "mark": {"type": "point", "shape": "M-1,0L1,0M0,-1L0,1", "filled": false, "color": "#3355ee", "strokeWidth": 1.2, "size": 28, "opacity": 1},
    "encoding": {"x": {"field": "x", "type": "quantitative"}, "y": {"field": "y", "type": "quantitative"}}},
   {"data": {"name": "f12"}, "mark": {"type": "point", "shape": "M-1,-1L1,1M1,-1L-1,1", "filled": false, "color": "#339922", "strokeWidth": 1.2, "size": 14, "opacity": 1},
    "encoding": {"x": {"field": "x", "type": "quantitative"}, "y": {"field": "y", "type": "quantitative"}}},
   {"data": {"values": [{"x": 8.1, "y": 1.5, "txt": "6 sites"}]}, "mark": {"type": "text", "align": "left", "baseline": "middle", "fontSize": 14, "color": "#ee1111"},
    "encoding": {"x": {"field": "x", "type": "quantitative"}, "y": {"field": "y", "type": "quantitative"}, "text": {"field": "txt"}}},
   {"data": {"values": [{"x": 6.0, "y": 1.419, "txt": "8 sites"}]}, "mark": {"type": "text", "align": "left", "baseline": "middle", "fontSize": 14, "color": "#3355ee"},
    "encoding": {"x": {"field": "x", "type": "quantitative"}, "y": {"field": "y", "type": "quantitative"}, "text": {"field": "txt"}}},
   {"data": {"values": [{"x": 6.8, "y": 1.29, "txt": "12 sites"}]}, "mark": {"type": "text", "align": "left", "baseline": "middle", "fontSize": 14, "color": "#339922"},
    "encoding": {"x": {"field": "x", "type": "quantitative"}, "y": {"field": "y", "type": "quantitative"}, "text": {"field": "txt"}}}
  ]
 }
]
}
